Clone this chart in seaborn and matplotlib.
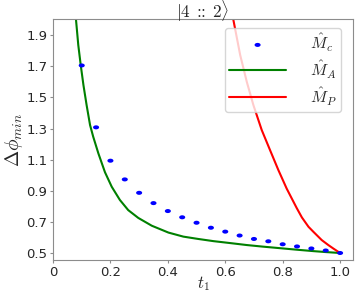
import numpy as np
import matplotlib
matplotlib.use("Agg")
import matplotlib.pyplot as plt
import seaborn as sns

# blue dots, M_c
t_c = [0.10, 0.15, 0.20, 0.25, 0.30, 0.35, 0.40, 0.45, 0.50, 0.55,
       0.60, 0.65, 0.70, 0.75, 0.80, 0.85, 0.90, 0.95, 1.00]
m_c = [1.705, 1.308, 1.094, 0.974, 0.888, 0.822, 0.771, 0.731, 0.696, 0.664,
       0.639, 0.614, 0.592, 0.577, 0.558, 0.544, 0.531, 0.518, 0.502]

# green curve, M_A
t_a = [0.080, 0.088, 0.0965, 0.106, 0.117, 0.129, 0.140, 0.158, 0.181, 0.2045,
       0.233, 0.262, 0.297, 0.344, 0.402, 0.454, 0.506, 0.559, 0.620, 0.675,
       0.730, 0.790, 0.850, 0.907, 0.950, 1.000]
m_a = [2.00, 1.836, 1.708, 1.579, 1.451, 1.323, 1.248, 1.141, 1.020, 0.927,
       0.842, 0.777, 0.727, 0.677, 0.633, 0.607, 0.592, 0.578, 0.565, 0.553,
       0.543, 0.533, 0.523, 0.514, 0.508, 0.502]

# red curve, M_P
t_p = [0.628, 0.652, 0.675, 0.698, 0.727, 0.756, 0.785, 0.814, 0.849, 0.867,
       0.890, 0.907, 0.936, 0.959, 0.977, 1.000]
m_p = [2.00, 1.772, 1.60, 1.451, 1.291, 1.162, 1.034, 0.915, 0.790, 0.730,
       0.670, 0.638, 0.585, 0.553, 0.530, 0.502]

sns.set_style("white", {"axes.edgecolor": "0.55"})
plt.rcParams["mathtext.fontset"] = "cm"

fig = plt.figure(figsize=(3.57, 2.91), dpi=100)
ax = fig.add_axes([0.1485, 0.1065, 0.8403, 0.8282])

# slightly wide dot, as in the picture
th = np.linspace(0, 2 * np.pi, 40)
dot = np.column_stack([1.5 * np.cos(th), np.sin(th)])

sns.scatterplot(x=t_c, y=m_c, ax=ax, color="blue", s=19, marker=dot,
                edgecolor="none", label=r"$\hat{M}_c$", zorder=3)
sns.lineplot(x=t_a, y=m_a, ax=ax, color="green", lw=1.5, label=r"$\hat{M}_A$",
             sort=False)
sns.lineplot(x=t_p, y=m_p, ax=ax, color="red", lw=1.5, label=r"$\hat{M}_P$",
             sort=False)

ax.set_xlim(0, 1.045)
ax.set_ylim(0.457, 2.003)
ax.set_xticks([0, 0.2, 0.4, 0.6, 0.8, 1.0])
ax.set_xticklabels(["0", "0.2", "0.4", "0.6", "0.8", "1.0"], fontsize=9.5)
ax.set_yticks([0.5, 0.7, 0.9, 1.1, 1.3, 1.5, 1.7, 1.9])
ax.set_yticklabels(["0.5", "0.7", "0.9", "1.1", "1.3", "1.5", "1.7", "1.9"], fontsize=9.5)
ax.tick_params(bottom=True, left=True, length=2.5, width=0.8, color="0.55", pad=1.5)
ax.set_xlabel(r"$t_1$", fontsize=12, labelpad=-3.5)
ax.set_ylabel(r"$\Delta\phi_{min}$", fontsize=14, labelpad=1)
ax.set_title(r"$|4\;:\!\!\!:\;2\rangle$", fontsize=12.5, pad=0.5)

ax.legend(loc="upper right", bbox_to_anchor=(0.96, 0.964), borderaxespad=0,
          fontsize=11.5, frameon=True, framealpha=0.8, handlelength=3.6,
          labelspacing=0.3, handletextpad=1.5, borderpad=0.25)

fig.savefig("out.png", dpi=100)
